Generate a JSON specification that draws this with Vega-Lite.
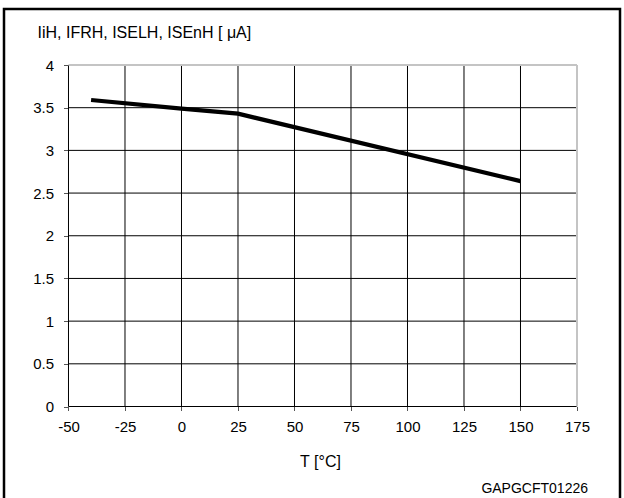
{
  "$schema": "https://vega.github.io/schema/vega-lite/v6.json",
  "width": 616,
  "height": 495,
  "autosize": {"type": "none"},
  "padding": {"left": 4, "top": 9, "right": 4, "bottom": 0},
  "background": "white",
  "config": {
    "view": {"stroke": "#000", "strokeWidth": 2.5},
    "font": "Liberation Sans"
  },
  "title": {
    "text": "GAPGCFT01226",
    "orient": "bottom",
    "anchor": "end",
    "frame": "group",
    "offset": -22.4,
    "dx": -32,
    "fontSize": 14,
    "fontWeight": "normal",
    "color": "#000",
    "font": "Liberation Sans"
  },
  "datasets": {
    "series": [
      {"T": -40, "I": 3.59},
      {"T": 0, "I": 3.49},
      {"T": 25, "I": 3.43},
      {"T": 150, "I": 2.64}
    ],
    "xgrid": [
      {"T": -50}, {"T": -25}, {"T": 0}, {"T": 25}, {"T": 50},
      {"T": 75}, {"T": 100}, {"T": 125}, {"T": 150}
    ],
    "ygrid": [
      {"I": 0}, {"I": 0.5}, {"I": 1}, {"I": 1.5}, {"I": 2},
      {"I": 2.5}, {"I": 3}, {"I": 3.5}
    ]
  },
  "layer": [
    {
      "data": {"name": "ygrid"},
      "mark": {"type": "rule", "color": "#000", "strokeWidth": 1},
      "encoding": {
        "y": {"field": "I", "type": "quantitative"},
        "x": {"datum": -50},
        "x2": {"datum": 175}
      }
    },
    {
      "data": {"name": "xgrid"},
      "mark": {"type": "rule", "color": "#000", "strokeWidth": 1},
      "encoding": {
        "x": {"field": "T", "type": "quantitative"},
        "y": {"datum": 0},
        "y2": {"datum": 4}
      }
    },
    {
      "data": {"values": [{}]},
      "mark": {"type": "rule", "color": "#c4c4c4", "strokeWidth": 2},
      "encoding": {
        "y": {"datum": 4},
        "x": {"datum": -50},
        "x2": {"datum": 175}
      }
    },
    {
      "data": {"values": [{}]},
      "mark": {"type": "rule", "color": "#c4c4c4", "strokeWidth": 2},
      "encoding": {
        "x": {"datum": 175},
        "y": {"datum": 0},
        "y2": {"datum": 4}
      }
    },
    {
      "data": {"name": "series"},
      "mark": {"type": "line", "color": "#000", "strokeWidth": 4.2, "strokeCap": "butt"},
      "encoding": {
        "x": {
          "field": "T",
          "type": "quantitative",
          "scale": {"domain": [-78.54, 194.03], "nice": false, "zero": false},
          "axis": {
            "orient": "bottom",
            "offset": -97.5,
            "values": [-50, -25, 0, 25, 50, 75, 100, 125, 150, 175],
            "labelExpr": "'' + datum.value",
            "domain": false,
            "grid": false,
            "tickSize": 4,
            "tickColor": "#555",
            "labelPadding": 9,
            "labelFontSize": 15,
            "labelColor": "#000",
            "labelFlush": false,
            "labelOverlap": false,
            "title": "T [°C]",
            "titleFontSize": 16,
            "titleFontWeight": "normal",
            "titleColor": "#000",
            "titleX": 316,
            "titleY": 60.2,
            "titleAlign": "center",
            "titleBaseline": "alphabetic"
          }
        },
        "y": {
          "field": "I",
          "type": "quantitative",
          "scale": {"domain": [-1.142, 4.656], "nice": false, "zero": false},
          "axis": {
            "orient": "left",
            "offset": -64.5,
            "values": [0, 0.5, 1, 1.5, 2, 2.5, 3, 3.5, 4],
            "labelExpr": "'' + datum.value",
            "domain": false,
            "grid": false,
            "tickSize": 5,
            "tickColor": "#555",
            "labelPadding": 10,
            "labelFontSize": 15,
            "labelColor": "#000",
            "labelFlush": false,
            "labelOverlap": false,
            "title": "IiH, IFRH, ISELH, ISEnH [ μA]",
            "titleAngle": 0,
            "titleX": -31.5,
            "titleY": 28.3,
            "titleAlign": "left",
            "titleBaseline": "alphabetic",
            "titleFontSize": 16,
            "titleFontWeight": "normal",
            "titleColor": "#000"
          }
        }
      }
    }
  ]
}
